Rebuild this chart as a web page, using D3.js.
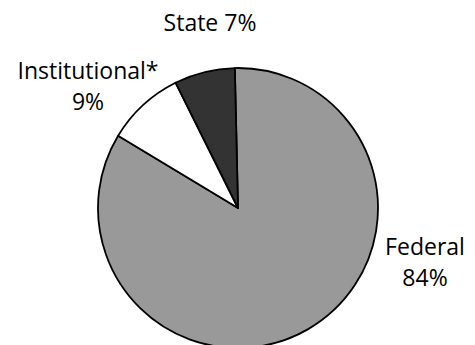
<!DOCTYPE html>
<html>
<head>
<meta charset="utf-8">
<script src="https://cdn.jsdelivr.net/npm/d3@7"></script>
<style>
  html, body { margin: 0; padding: 0; background: #fff; }
  svg { display: block; }
  text { font-family: "Open Sans", sans-serif; font-size: 23px; fill: #000; }
</style>
</head>
<body>
<svg id="chart" width="475" height="345"></svg>
<script>
// Funding sources, clockwise from the top
const categories = ["Federal", "Institutional*", "State"];
const shares = [84, 9, 7];
const fills = ["#999999", "#ffffff", "#333333"];

const width = 475, height = 345;
const cx = 238, cy = 208, radius = 140;

const svg = d3.select("#chart");
const g = svg.append("g").attr("transform", `translate(${cx},${cy})`);

const data = categories.map((c, i) => ({ name: c, value: shares[i], fill: fills[i] }));

const offset = -1.3 * Math.PI / 180;
const pie = d3.pie()
  .sort(null)
  .value(d => d.value)
  .startAngle(offset)
  .endAngle(2 * Math.PI + offset);

const arc = d3.arc().innerRadius(0).outerRadius(radius);

g.selectAll("path")
  .data(pie(data))
  .join("path")
  .attr("d", arc)
  .attr("fill", d => d.data.fill)
  .attr("stroke", "#000")
  .attr("stroke-width", 1.8)
  .attr("stroke-linejoin", "round");

// Label placement (page coordinates of the first baseline, centred)
const labelPos = {
  "Federal": { x: 425, y: 255, lines: 2 },
  "Institutional*": { x: 88, y: 79, lines: 2 },
  "State": { x: 210, y: 31, lines: 1 }
};
const lineGap = 31;

data.forEach(d => {
  const p = labelPos[d.name];
  const t = svg.append("text")
    .attr("text-anchor", "middle")
    .attr("x", p.x)
    .attr("y", p.y);
  if (p.lines === 1) {
    t.text(`${d.name} ${d.value}%`);
  } else {
    t.append("tspan").attr("x", p.x).attr("y", p.y).text(d.name);
    t.append("tspan").attr("x", p.x).attr("y", p.y + lineGap).text(`${d.value}%`);
  }
});
</script>
</body>
</html>
